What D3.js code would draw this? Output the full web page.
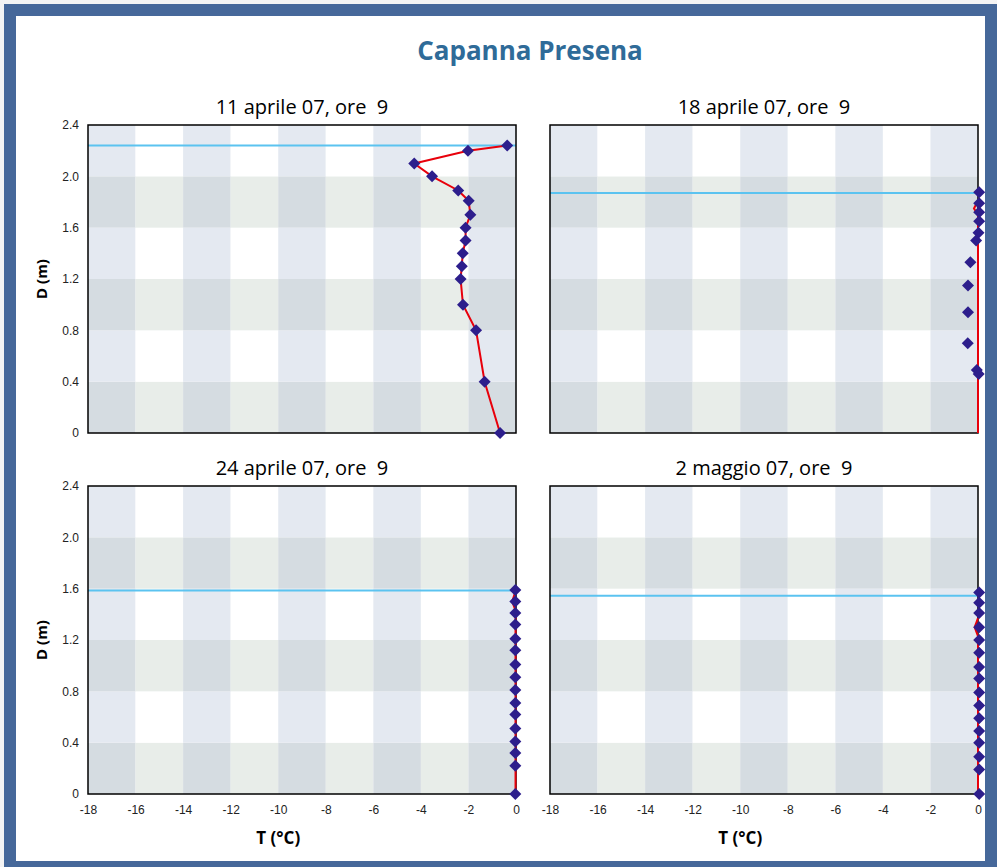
<!DOCTYPE html>
<html>
<head>
<meta charset="utf-8">
<script src="https://cdn.jsdelivr.net/npm/d3@7"></script>
<style>
  body { margin: 0; background: #f4f4f4; }
  svg { display: block; font-family: "Open Sans", sans-serif; }
</style>
</head>
<body>
<div id="chart"></div>
<script>
// Axis ticks
const tempTicks = [-18, -16, -14, -12, -10, -8, -6, -4, -2, 0];
const depthTicks = [0, 0.4, 0.8, 1.2, 1.6, 2.0, 2.4];

// Panels
const titles = ["11 aprile 07, ore  9", "18 aprile 07, ore  9", "24 aprile 07, ore  9", "2 maggio 07, ore  9"];
const snowDepth = [2.24, 1.87, 1.585, 1.545];

// Measured profiles (diamonds)
const measT1 = [-0.37, -2.02, -4.28, -3.53, -2.43, -1.99, -1.92, -2.12, -2.12, -2.24, -2.28, -2.33, -2.23, -1.68, -1.32, -0.67];
const measD1 = [2.24, 2.20, 2.10, 2.00, 1.89, 1.81, 1.70, 1.60, 1.50, 1.40, 1.30, 1.20, 1.00, 0.80, 0.40, 0];
const measT2 = [0.05, 0.05, 0.05, 0.05, 0.02, -0.08, -0.32, -0.42, -0.42, -0.43, -0.05, 0.03];
const measD2 = [1.875, 1.79, 1.72, 1.65, 1.56, 1.50, 1.33, 1.15, 0.94, 0.70, 0.49, 0.46];
const measT3 = [-0.03, -0.03, -0.03, -0.03, -0.03, -0.03, -0.03, -0.03, -0.03, -0.03, -0.03, -0.03, -0.03, -0.03, -0.03, -0.03];
const measD3 = [1.59, 1.50, 1.41, 1.32, 1.21, 1.12, 1.01, 0.91, 0.81, 0.71, 0.62, 0.51, 0.41, 0.32, 0.22, 0];
const measT4 = [0.05, 0.05, 0.05, 0.05, 0.05, 0.05, 0.05, 0.05, 0.05, 0.05, 0.05, 0.05, 0.05, 0.05, 0.05, 0.05];
const measD4 = [1.57, 1.49, 1.41, 1.30, 1.20, 1.10, 0.99, 0.90, 0.79, 0.69, 0.59, 0.49, 0.40, 0.29, 0.19, 0];

// Red profile line
const lineT1 = measT1;
const lineD1 = measD1;
const lineT2 = [0, -0.17, 0, 0];
const lineD2 = [1.81, 1.75, 1.70, 0];
const lineT3 = [-0.01, -0.16, -0.02, -0.02];
const lineD3 = [1.585, 1.50, 1.43, 0];
const lineT4 = [0, -0.14, 0, 0];
const lineD4 = [1.37, 1.30, 1.23, 0];

const measT = [measT1, measT2, measT3, measT4];
const measD = [measD1, measD2, measD3, measD4];
const lineT = [lineT1, lineT2, lineT3, lineT4];
const lineD = [lineD1, lineD2, lineD3, lineD4];

const W = 997, H = 867;
const pw = 428, ph = 308;
const origins = [[88, 125], [550, 125], [88, 486], [550, 486]];

const svg = d3.select("#chart").append("svg")
    .attr("width", W)
    .attr("height", H);

// Outer frame
svg.append("rect")
    .attr("x", 10).attr("y", 10)
    .attr("width", W - 16).attr("height", H - 10)
    .attr("fill", "#fff")
    .attr("stroke", "#46689a")
    .attr("stroke-width", 12);

// Main title
svg.append("text")
    .attr("x", 530).attr("y", 60)
    .attr("text-anchor", "middle")
    .style("font-size", "26px")
    .style("font-weight", "bold")
    .attr("fill", "#2f6b98")
    .text("Capanna Presena");

const x = d3.scaleLinear().domain([-18, 0]).range([0, pw]);
const y = d3.scaleLinear().domain([0, 2.4]).range([ph, 0]);

const cellColors = {
    light: ["#e4e9f1", "#ffffff"],
    dark: ["#d5dce1", "#e8ede9"]
};

titles.forEach((title, p) => {
    const [ox, oy] = origins[p];
    const g = svg.append("g").attr("transform", `translate(${ox},${oy})`);

    // Checkered background
    const cols = d3.range(tempTicks.length - 1);
    const rows = d3.range(depthTicks.length - 1);
    rows.forEach(j => {
        cols.forEach(i => {
            const shade = j % 2 === 0 ? "dark" : "light";
            g.append("rect")
                .attr("x", x(tempTicks[i]))
                .attr("y", y(depthTicks[j + 1]))
                .attr("width", x(tempTicks[i + 1]) - x(tempTicks[i]))
                .attr("height", y(depthTicks[j]) - y(depthTicks[j + 1]))
                .attr("fill", cellColors[shade][i % 2]);
        });
    });

    // Snow surface line
    g.append("line")
        .attr("x1", 0).attr("x2", pw)
        .attr("y1", y(snowDepth[p])).attr("y2", y(snowDepth[p]))
        .attr("stroke", "#5bc3f0")
        .attr("stroke-width", 2);

    // Border
    g.append("rect")
        .attr("width", pw).attr("height", ph)
        .attr("fill", "none")
        .attr("stroke", "#000")
        .attr("stroke-width", 1.5);

    // Red profile
    const line = d3.line()
        .x(d => x(d[0]))
        .y(d => y(d[1]));
    g.append("path")
        .datum(lineT[p].map((t, k) => [t, lineD[p][k]]))
        .attr("d", line)
        .attr("fill", "none")
        .attr("stroke", "#e8000b")
        .attr("stroke-width", 2);

    // Diamonds
    g.selectAll("path.pt")
        .data(measT[p].map((t, k) => [t, measD[p][k]]))
        .enter()
        .append("path")
        .attr("class", "pt")
        .attr("d", d3.symbol(d3.symbolSquare, 72))
        .attr("transform", d => `translate(${x(d[0])},${y(d[1])}) rotate(45)`)
        .attr("fill", "#2d1e8c");

    // Panel title
    g.append("text")
        .attr("x", pw / 2).attr("y", -11)
        .attr("text-anchor", "middle")
        .style("font-size", "20px")
        .style("white-space", "pre")
        .attr("fill", "#000")
        .text(title);

    // Y axis on left panels
    if (p % 2 === 0) {
        const ya = g.append("g")
            .call(d3.axisLeft(y).tickValues(depthTicks)
                .tickFormat(d => d === 0 ? "0" : d3.format(".1f")(d))
                .tickSize(0).tickPadding(9));
        ya.select(".domain").remove();
        ya.selectAll("text").style("font-size", "12px").attr("fill", "#222");

        g.append("text")
            .attr("transform", "rotate(-90)")
            .attr("x", -ph / 2).attr("y", -41)
            .attr("text-anchor", "middle")
            .style("font-size", "15px")
            .style("font-weight", "bold")
            .text("D (m)");
    }

    // X axis on bottom panels
    if (p >= 2) {
        const xa = g.append("g")
            .attr("transform", `translate(0,${ph})`)
            .call(d3.axisBottom(x).tickValues(tempTicks)
                .tickFormat(d => String(d))
                .tickSize(0).tickPadding(11));
        xa.select(".domain").remove();
        xa.selectAll("text").style("font-size", "12px").attr("fill", "#222");

        g.append("text")
            .attr("x", x(-10)).attr("y", ph + 50)
            .attr("text-anchor", "middle")
            .style("font-size", "17px")
            .style("font-weight", "bold")
            .text("T (°C)");
    }
});
</script>
</body>
</html>
